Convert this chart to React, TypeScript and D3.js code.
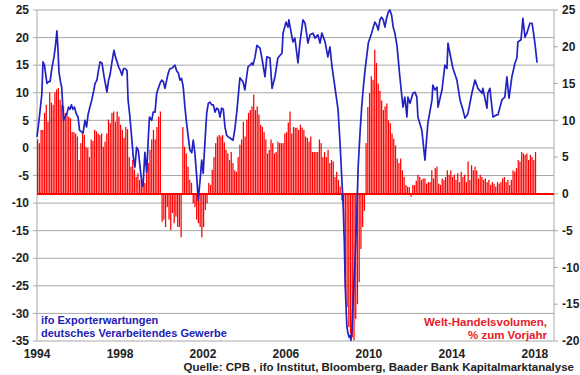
import React from 'react';
import * as d3 from 'd3';

// ---------- data ----------
const yearTicks = [1994, 1998, 2002, 2006, 2010, 2014, 2018];
const leftTicks = [25, 20, 15, 10, 5, 0, -5, -10, -15, -20, -25, -30, -35];
const rightTicks = [25, 20, 15, 10, 5, 0, -5, -10, -15, -20];

// World trade volume, % y/y, monthly from Jan 1994 (right axis)
const tradeStart = 1994;
const tradeVolume = [
  7.4, 6.9, 8.7, 8.7, 11, 12.1, 9.8, 13.8, 12.4, 12.1, 13.8, 14.2,
  14.4, 12.8, 12.1, 11.9, 11, 10.8, 10.5, 10.3, 8.4, 8.4, 8.2, 7.8,
  4.6, 6.9, 8.2, 8, 6.4, 6.2, 5, 7.4, 7.2, 8.7, 8.5, 8.2,
  8, 8.2, 6.4, 7.1, 8.2, 10.1, 9.6, 11, 11.2, 9.8, 11.2, 10.5,
  9.4, 8.7, 7.6, 9.1, 8.8, 5, 3.7, 4.6, 3.3, 2.3, 2.8, 1.9,
  1.8, 1, 1.5, 2.8, 4.2, 6, 7.4, 8.7, 7.4, 9.1, 10.5, 11.2,
  -3.8, -3.5, -4.5, -1.8, -3.5, -4.9, -2.6, -4, -3.1, -4.5, -4.5, -5.9,
  9.1, 6.4, 5.5, 3.7, 1.9, 1.5, -1.3, -1.8, -3.5, -4, -4.5, -5.9,
  -4.5, -2.2, -1.3, 1.5, 1.2, 3.3, 5, 6.9, 7.8, 8, 7.8, 8,
  7, 6, 5.5, 4.6, 5.7, 4.2, 3.2, 3, 5, 6.7, 7.4, 9.8,
  7.8, 10.1, 11, 11.4, 11.9, 13.5, 11.4, 11.9, 10.8, 9.4, 9.1, 8.4,
  7.4, 5.5, 6, 7.4, 6.9, 5.5, 5.7, 7.1, 6.9, 6.9, 6.9, 8.2,
  8.4, 9.7, 11.2, 8.2, 9.1, 9, 9, 8.7, 9.4, 9, 8.7, 7.8,
  7.6, 7.1, 7.8, 5.7, 5.7, 5.7, 5.7, 7.4, 6.9, 5, 5.7, 5,
  6, 4.2, 4.6, 4.4, 2.3, 3, 1.9, 1, -0.9, -5.4, -12.7, -15.4,
  -18.1, -19, -19.5, -19.9, -17, -15, -12, -7.5, -4.5, -2.3, 6.9, 11.8,
  13.7, 16, 15.5, 19.6, 17.8, 15, 14, 12.7, 11.4, 11.9, 12.3, 10,
  9.6, 8.2, 7.5, 6.6, 4.8, 4.2, 4.8, 3.2, 2.3, 1.2, 1, 0.9,
  -0.4, 1.2, 1.2, 1.8, 2.6, 2.3, 1.9, 2.1, 2.1, 1.4, 1.6, 1.6,
  3.2, 2.1, 3.5, 3.7, 1.4, 1.2, 2.1, 1.9, 2.3, 3.2, 2.6, 3.2,
  2.3, 2.6, 1.9, 2.8, 1.6, 3, 2.3, 2.6, 1.6, 4.4, 1.9, 3.9,
  3.2, 3.7, 3.2, 2.1, 2.6, 2.3, 1.9, 2.1, 1.6, 1.9, 1.2, 1.6,
  1.4, 1, 1.6, 1.4, 1.6, 2.1, 2.3, 1.6, 1.9, 1.2, 1.9, 3.2,
  3, 3.5, 4.6, 4.4, 5.7, 5.5, 5.3, 5.5, 4.6, 5.3, 5, 4.6,
  5.7,
];

// ifo export expectations (left axis): [decimal year, value]
const ifoExport: [number, number][] = [
  [1994.0, 2.0], [1994.06, 3.8], [1994.14, 6.5], [1994.23, 9.6], [1994.29, 15.6], [1994.36, 15.0],
  [1994.43, 13.0], [1994.48, 11.7], [1994.55, 12.0], [1994.63, 12.0], [1994.72, 14.5], [1994.82, 16.5],
  [1994.89, 18.5], [1994.96, 21.2], [1995.01, 18.0], [1995.06, 13.8], [1995.13, 12.0], [1995.19, 11.0],
  [1995.28, 5.0], [1995.35, 5.6], [1995.45, 6.3], [1995.52, 7.4], [1995.59, 7.0], [1995.66, 7.8],
  [1995.73, 7.0], [1995.81, 7.4], [1995.88, 6.3], [1995.98, 5.6], [1996.05, 3.2], [1996.12, 3.0],
  [1996.22, 2.7], [1996.31, 5.0], [1996.39, 3.8], [1996.46, 6.0], [1996.55, 7.4], [1996.64, 8.7],
  [1996.71, 9.9], [1996.8, 11.7], [1996.89, 12.3], [1996.96, 14.0], [1997.04, 15.6], [1997.13, 15.4],
  [1997.23, 13.0], [1997.33, 11.0], [1997.37, 10.1], [1997.45, 12.3], [1997.52, 13.2], [1997.61, 15.5],
  [1997.71, 17.7], [1997.78, 16.5], [1997.86, 15.6], [1997.95, 14.5], [1998.02, 14.0], [1998.1, 13.2],
  [1998.17, 14.4], [1998.24, 14.4], [1998.34, 14.0], [1998.39, 8.7], [1998.48, 5.6], [1998.56, 2.0],
  [1998.64, -1.6], [1998.72, -3.5], [1998.8, 0.1], [1998.88, -0.4], [1998.96, -3.2], [1999.04, -5.9],
  [1999.11, -7.0], [1999.2, -0.8], [1999.29, -4.5], [1999.36, 1.4], [1999.42, 5.6], [1999.53, 5.0],
  [1999.6, 6.5], [1999.69, 6.5], [1999.77, 9.9], [1999.85, 10.8], [1999.93, 11.7], [2000.01, 12.3],
  [2000.09, 12.0], [2000.17, 10.8], [2000.25, 12.3], [2000.33, 13.6], [2000.41, 14.4], [2000.49, 14.4],
  [2000.57, 14.7], [2000.65, 15.0], [2000.73, 14.0], [2000.81, 13.6], [2000.89, 12.3], [2000.97, 12.6],
  [2001.05, 11.0], [2001.13, 7.4], [2001.21, 4.5], [2001.29, 2.0], [2001.37, -0.4], [2001.46, -0.9],
  [2001.53, 1.4], [2001.61, -0.9], [2001.7, -5.3], [2001.77, -9.5], [2001.86, -5.9], [2001.94, -2.2],
  [2002.01, -4.6], [2002.1, 1.4], [2002.18, 6.3], [2002.26, 8.1], [2002.34, 8.3], [2002.42, 7.8],
  [2002.5, 7.8], [2002.58, 6.5], [2002.66, 7.2], [2002.74, 7.0], [2002.82, 5.6], [2002.9, 7.2],
  [2002.98, 7.0], [2003.06, 3.8], [2003.14, 2.3], [2003.22, 2.0], [2003.3, 1.8], [2003.45, 1.4],
  [2003.54, 3.5], [2003.64, 6.9], [2003.78, 12.7], [2003.93, 12.0], [2004.02, 10.5], [2004.17, 14.7],
  [2004.27, 15.0], [2004.36, 15.4], [2004.41, 15.0], [2004.51, 16.5], [2004.6, 18.6], [2004.75, 18.1],
  [2004.84, 16.3], [2004.99, 12.9], [2005.08, 16.5], [2005.23, 16.3], [2005.33, 10.8], [2005.47, 12.9],
  [2005.61, 16.3], [2005.81, 17.2], [2005.86, 20.8], [2006.0, 22.8], [2006.1, 21.9], [2006.14, 23.2],
  [2006.29, 20.1], [2006.34, 19.2], [2006.43, 19.9], [2006.58, 15.4], [2006.67, 19.0], [2006.82, 23.2],
  [2006.92, 22.6], [2007.06, 19.0], [2007.16, 20.5], [2007.3, 20.8], [2007.4, 19.9], [2007.54, 20.5],
  [2007.64, 19.0], [2007.73, 20.8], [2007.88, 19.3], [2008.02, 16.5], [2008.12, 18.3], [2008.22, 14.7],
  [2008.36, 11.0], [2008.51, 7.0], [2008.6, 1.4], [2008.68, -4.6], [2008.76, -10.7], [2008.81, -16.7],
  [2008.86, -25.3], [2008.91, -30.0], [2008.94, -32.5], [2008.99, -33.6], [2009.04, -34.3], [2009.08, -34.0],
  [2009.13, -34.9], [2009.18, -33.1], [2009.24, -27.6], [2009.33, -20.4], [2009.41, -12.6], [2009.48, -3.5],
  [2009.57, 2.7], [2009.65, 7.4], [2009.73, 11.0], [2009.81, 14.0], [2009.89, 16.5], [2009.97, 19.0],
  [2010.13, 20.8], [2010.21, 21.9], [2010.29, 22.8], [2010.37, 22.3], [2010.45, 21.4], [2010.53, 23.2],
  [2010.61, 23.7], [2010.69, 23.2], [2010.77, 21.9], [2010.85, 23.5], [2010.93, 24.6], [2011.01, 25.0],
  [2011.09, 24.1], [2011.17, 21.9], [2011.25, 20.8], [2011.35, 18.6], [2011.49, 12.9], [2011.64, 7.4],
  [2011.73, 9.2], [2011.83, 5.6], [2011.88, 9.2], [2011.98, 8.1], [2012.12, 9.9], [2012.22, 10.1],
  [2012.31, 9.2], [2012.36, 5.6], [2012.55, 3.2], [2012.7, -2.2], [2012.84, 4.5], [2013.04, 8.7],
  [2013.08, 11.4], [2013.18, 10.5], [2013.28, 11.0], [2013.33, 7.4], [2013.52, 10.5], [2013.66, 15.0],
  [2013.76, 14.4], [2013.81, 19.0], [2013.9, 17.2], [2014.05, 14.4], [2014.24, 12.3], [2014.39, 8.7],
  [2014.53, 6.9], [2014.63, 5.4], [2014.77, 6.2], [2014.96, 9.9], [2015.11, 12.3], [2015.25, 10.8],
  [2015.45, 9.9], [2015.49, 10.8], [2015.69, 7.2], [2015.73, 9.9], [2015.83, 10.8], [2015.98, 5.6],
  [2016.17, 6.0], [2016.22, 6.0], [2016.41, 8.7], [2016.55, 9.2], [2016.65, 12.9], [2016.75, 9.0],
  [2016.89, 12.9], [2017.04, 15.4], [2017.13, 16.3], [2017.18, 19.2], [2017.33, 19.6], [2017.42, 23.5],
  [2017.52, 20.1], [2017.61, 20.8], [2017.76, 22.6], [2017.86, 22.6], [2017.9, 21.7], [2018.0, 19.0],
  [2018.1, 15.6], [2018.14, 15.6],
];

const leftLegend = ['ifo Exporterwartungen', 'deutsches Verarbeitendes Gewerbe'];
const rightLegend = ['Welt-Handelsvolumen,', '% zum Vorjahr'];
const sourceText = 'Quelle: CPB , ifo Institut, Bloomberg, Baader Bank Kapitalmarktanalyse';

// ---------- layout ----------
const W = 580;
const H = 375;
const plotLeft = 37;
const plotRight = 554;
const plotTop = 10;
const plotBottom = 341;

const FONT = '"Liberation Sans", Arial, sans-serif';
const BLUE = '#2222c4';
const BLUE_TEXT = '#2020b8';
const RED = '#ff0000';
const RED_TEXT = '#e5202a';
const GRID = '#a8a8a8';
const TEXT = '#222';

export default function App() {
  const x = d3.scaleLinear().domain([1994, 2018.92]).range([plotLeft, plotRight]);
  const yL = d3.scaleLinear().domain([-35, 25]).range([plotBottom, plotTop]);
  const yR = d3.scaleLinear().domain([-20, 25]).range([plotBottom, plotTop]);

  const monthW = x(tradeStart + 1 / 12) - x(tradeStart);
  const barW = monthW * 0.72;

  const line = d3
    .line<[number, number]>()
    .x((d) => x(d[0]))
    .y((d) => yL(d[1]))
    .curve(d3.curveLinear);

  return (
    <svg
      width={W}
      height={H}
      style={{ position: 'absolute', left: 0, top: 0, background: '#fff' }}
      fontFamily={FONT}
    >
      <rect x={0} y={0} width={W} height={H} fill="#fff" />
      {/* gridlines */}
      {leftTicks.map((t) => (
        <line key={'g' + t} x1={plotLeft} x2={plotRight} y1={yL(t)} y2={yL(t)} stroke={GRID} strokeWidth={1} />
      ))}
      {/* axes */}
      <line x1={plotLeft} x2={plotLeft} y1={plotTop} y2={plotBottom} stroke={GRID} strokeWidth={1} />
      <line x1={plotRight} x2={plotRight} y1={plotTop} y2={plotBottom} stroke={GRID} strokeWidth={1} />
      {leftTicks.map((t) => (
        <line key={'lt' + t} x1={plotLeft - 4} x2={plotLeft} y1={yL(t)} y2={yL(t)} stroke={GRID} strokeWidth={1} />
      ))}
      {rightTicks.map((t) => (
        <line key={'rt' + t} x1={plotRight} x2={plotRight + 4} y1={yR(t)} y2={yR(t)} stroke={GRID} strokeWidth={1} />
      ))}

      {/* trade volume bars */}
      {tradeVolume.map((v, i) => {
        const x0 = x(tradeStart + i / 12);
        const y0 = yR(0);
        const y1 = yR(v);
        return (
          <rect
            key={'b' + i}
            x={x0}
            width={barW}
            y={Math.min(y0, y1)}
            height={Math.abs(y1 - y0)}
            fill={RED}
          />
        );
      })}
      <line x1={plotLeft} x2={plotRight} y1={yR(0)} y2={yR(0)} stroke={RED} strokeWidth={2} />

      {/* ifo line */}
      <path d={line(ifoExport) || ''} fill="none" stroke={BLUE} strokeWidth={1.7} strokeLinejoin="round" />

      {/* tick labels */}
      {leftTicks.map((t) => (
        <text key={'ll' + t} x={plotLeft - 8} y={yL(t)} dy="0.35em" textAnchor="end" fontSize={12} fontWeight="bold" fill={TEXT}>
          {t}
        </text>
      ))}
      {rightTicks.map((t) => (
        <text key={'rl' + t} x={plotRight + 8} y={yR(t)} dy="0.35em" textAnchor="start" fontSize={12} fontWeight="bold" fill={TEXT}>
          {t}
        </text>
      ))}
      {yearTicks.map((yr) => (
        <text key={'x' + yr} x={x(yr)} y={358} textAnchor="middle" fontSize={12} fontWeight="bold" fill={TEXT}>
          {yr}
        </text>
      ))}

      {/* legends */}
      {leftLegend.map((s, i) => (
        <text key={'lg' + i} x={41} y={324 + i * 12.5} fontSize={11} fontWeight="bold" fill={BLUE_TEXT}>
          {s}
        </text>
      ))}
      {rightLegend.map((s, i) => (
        <text key={'rg' + i} x={547} y={326 + i * 12.5} textAnchor="end" fontSize={11.5} fontWeight="bold" fill={RED_TEXT}>
          {s}
        </text>
      ))}
      <text x={574} y={371} textAnchor="end" fontSize={11.5} fontWeight="bold" fill={TEXT}>
        {sourceText}
      </text>
    </svg>
  );
}
